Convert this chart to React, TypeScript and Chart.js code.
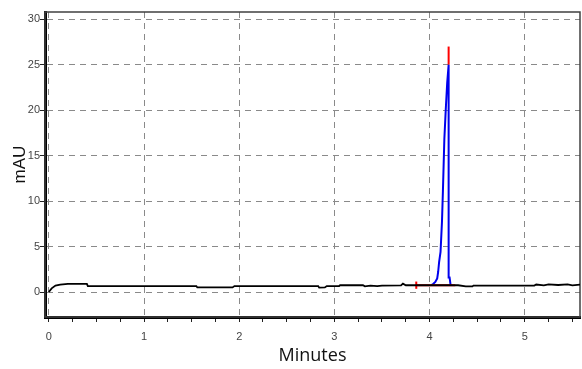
import React, { useEffect, useRef } from "react";
import { Chart, registerables } from "chart.js";

Chart.register(...registerables);

// Baseline trace (black)
const baseTime = [0, 0.03, 0.07, 0.12, 0.2, 0.4, 0.41, 1.55, 1.56, 1.93, 1.95, 2.83, 2.84, 2.9, 2.92, 3.05, 3.06, 3.3, 3.32, 3.38, 3.45, 3.5, 3.7, 3.72, 3.75, 4.0, 4.3, 4.38, 4.45, 4.46, 5.1, 5.12, 5.2, 5.25, 5.35, 5.45, 5.5, 5.58];
const baseMAU = [0, 0.4, 0.7, 0.8, 0.9, 0.9, 0.65, 0.65, 0.5, 0.5, 0.65, 0.65, 0.48, 0.5, 0.65, 0.66, 0.74, 0.74, 0.62, 0.7, 0.64, 0.7, 0.72, 0.92, 0.74, 0.74, 0.74, 0.62, 0.62, 0.7, 0.7, 0.82, 0.74, 0.84, 0.77, 0.84, 0.74, 0.82];

// Peak trace (blue)
const peakTime = [4.02, 4.04, 4.06, 4.08, 4.09, 4.1, 4.115, 4.13, 4.14, 4.155, 4.17, 4.185, 4.2, 4.2, 4.21, 4.22, 4.23];
const peakMAU = [0.75, 0.9, 1.1, 1.5, 2.2, 3.3, 4.4, 7.7, 11.1, 16.8, 20.1, 23.0, 25.0, 1.6, 1.6, 0.8, 0.75];

// Integration markers (red)
const redBaseTime = [3.86, 4.27];
const redBaseMAU = [0.75, 0.75];
const redTickTime = [3.86, 3.86];
const redTickMAU = [0.35, 1.15];
const redApexTime = [4.2, 4.2];
const redApexMAU = [25.0, 27.0];

// Axes
const xTicks = [0, 0.25, 0.5, 0.75, 1, 1.25, 1.5, 1.75, 2, 2.25, 2.5, 2.75, 3, 3.25, 3.5, 3.75, 4, 4.25, 4.5, 4.75, 5, 5.25, 5.5];
const yTicks = [0, 5, 10, 15, 20, 25, 30];
const xRange = [-0.04, 5.58];
const yRange = [-2.75, 30.8];

const pts = (xs: number[], ys: number[]) => xs.map((x, i) => ({ x, y: ys[i] }));

export default function App() {
  const ref = useRef<HTMLCanvasElement | null>(null);
  useEffect(() => {
    if (!ref.current) return;
    const frame = {
      id: "frame",
      beforeDatasetsDraw(chart: any) {
        const { ctx, chartArea: a } = chart;
        ctx.save();
        ctx.strokeStyle = "#404040";
        ctx.lineWidth = 1.5;
        ctx.strokeRect(a.left, a.top, a.right - a.left, a.bottom - a.top);
        ctx.restore();
      },
    };
    const chart = new Chart(ref.current, {
      type: "line",
      data: {
        datasets: [
          { data: pts(baseTime, baseMAU), borderColor: "#000", borderWidth: 1.8, pointRadius: 0 },
          { data: pts(redBaseTime, redBaseMAU), borderColor: "#ff0000", borderWidth: 2, pointRadius: 0 },
          { data: pts(redTickTime, redTickMAU), borderColor: "#ff0000", borderWidth: 2, pointRadius: 0 },
          { data: pts(peakTime, peakMAU), borderColor: "#0000ee", borderWidth: 2, pointRadius: 0 },
          { data: pts(redApexTime, redApexMAU), borderColor: "#ff0000", borderWidth: 2, pointRadius: 0 },
        ],
      },
      options: {
        animation: false,
        responsive: false,
        events: [],
        layout: { padding: { top: 12, right: 2, left: 0, bottom: 0 } },
        plugins: { legend: { display: false }, tooltip: { enabled: false } },
        elements: { line: { tension: 0 } },
        scales: {
          x: {
            type: "linear",
            min: xRange[0],
            max: xRange[1],
            afterBuildTicks: (s: any) => { s.ticks = xTicks.map((v) => ({ value: v })); },
            afterFit: (s: any) => { s.height = 52; },
            border: { color: "#000", width: 3, dash: [6, 5] },
            grid: {
              color: (c: any) => (c.tick && Number.isInteger(c.tick.value) ? "#8a8a8a" : "rgba(0,0,0,0)"),
              tickColor: "#222",
              lineWidth: 1,
              tickLength: 5,
              tickBorderDash: [],
            },
            ticks: {
              autoSkip: false,
              maxRotation: 0,
              padding: 8,
              color: "#444",
              font: { family: "Liberation Sans, Arial", size: 11 },
              callback: (v: any) => (Number.isInteger(v) ? String(v) : ""),
            },
            title: {
              display: true,
              text: "Minutes",
              color: "#111",
              font: { family: "Open Sans", size: 18 },
              padding: { top: 0, bottom: 2 },
            },
          },
          y: {
            type: "linear",
            min: yRange[0],
            max: yRange[1],
            afterBuildTicks: (s: any) => { s.ticks = yTicks.map((v) => ({ value: v })); },
            afterFit: (s: any) => { s.width = 45; },
            border: { color: "#000", width: 3, dash: [6, 5] },
            grid: {
              color: "#8a8a8a",
              tickColor: "#222",
              lineWidth: 1,
              tickLength: 5,
              tickBorderDash: [],
            },
            ticks: {
              padding: 0,
              color: "#444",
              font: { family: "Liberation Sans, Arial", size: 11 },
            },
            title: {
              display: true,
              text: "mAU",
              color: "#111",
              font: { family: "Liberation Sans, Arial", size: 17 },
              padding: { top: 10, bottom: 0 },
            },
          },
        },
      },
      plugins: [frame],
    } as any);
    return () => chart.destroy();
  }, []);
  return (
    <div style={{ position: "absolute", left: 0, top: 0, width: 582, height: 369, background: "#fff" }}>
      <canvas ref={ref} width={582} height={369} />
    </div>
  );
}
